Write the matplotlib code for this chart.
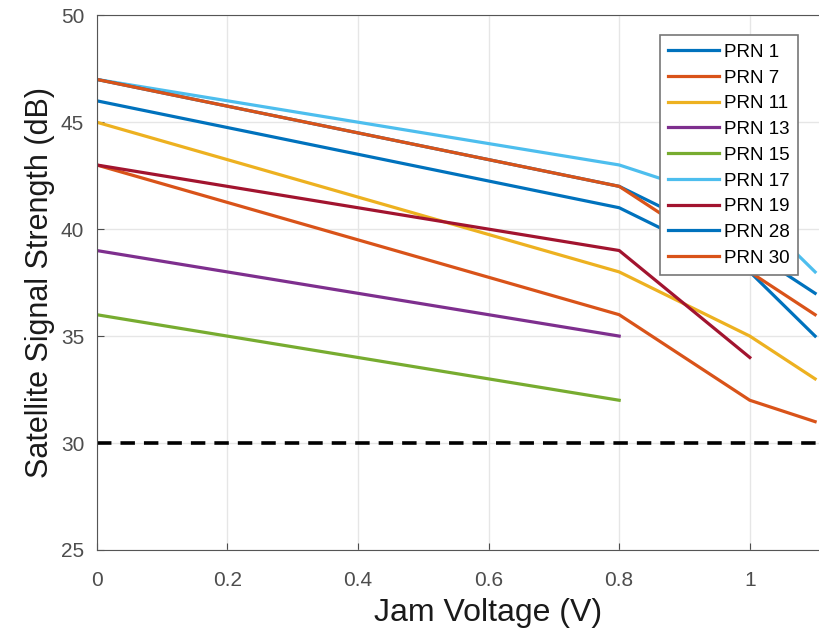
import matplotlib.pyplot as plt

plt.rcParams['font.family'] = ['Liberation Sans', 'DejaVu Sans']

# jam voltage steps
x_full = [0, 0.8, 1.0, 1.1]

labels = ["PRN 1", "PRN 7", "PRN 11", "PRN 13", "PRN 15",
          "PRN 17", "PRN 19", "PRN 28", "PRN 30"]

prn1 = [46, 41, 38, 35]
prn7 = [43, 36, 32, 31]
prn11 = [45, 38, 35, 33]
prn13 = [39, 35]
prn15 = [36, 32]
prn17 = [47, 43, 41, 38]
prn19 = [43, 39, 34]
prn28 = [47, 42, 39, 37]
prn30 = [47, 42, 38, 36]

threshold = 30

series = [prn1, prn7, prn11, prn13, prn15, prn17, prn19, prn28, prn30]
colors = ["#0072BD", "#D95319", "#EDB120", "#7E2F8E", "#77AC30",
          "#4DBEEE", "#A2142F", "#0072BD", "#D95319"]

fig = plt.figure(figsize=(8.19, 6.34), dpi=100)
# the original axes runs past the right edge of the picture (cropped)
ax = fig.add_axes([0.118, 0.1325, 0.957, 0.8435])

for vals, lab, c in zip(series, labels, colors):
    ax.plot(x_full[:len(vals)], vals, color=c, lw=2.3, label=lab)

ax.axhline(threshold, color="black", lw=2.6, ls=(0, (4, 2.5)))

ax.set_xlim(0, 1.2)
ax.set_ylim(25, 50)
ax.set_xticks([0, 0.2, 0.4, 0.6, 0.8, 1.0])
ax.set_xticklabels(["0", "0.2", "0.4", "0.6", "0.8", "1"])
ax.set_yticks([25, 30, 35, 40, 45, 50])
ax.grid(True, color="#e6e6e6", lw=1)
ax.set_axisbelow(True)
ax.tick_params(direction="in", labelsize=15, colors="#4d4d4d", length=5)
ax.tick_params(axis="x", pad=15)
ax.tick_params(axis="y", pad=9)
for s in ax.spines.values():
    s.set_color("#555555")

ax.set_xlabel("Jam Voltage (V)", fontsize=23, color="#1a1a1a", labelpad=6)
ax.set_ylabel("Satellite Signal Strength (dB)", fontsize=22, color="#1a1a1a", labelpad=4)

leg = ax.legend(loc="upper right", bbox_to_anchor=((799 - 97) / 784, (550 - 35) / 535),
                fontsize=13.5, fancybox=False, framealpha=1, edgecolor="#777777",
                handlelength=2.7, handletextpad=0.3, labelspacing=0.46,
                borderpad=0.45, borderaxespad=0)
leg.get_frame().set_linewidth(1.2)

plt.savefig("out.png")
